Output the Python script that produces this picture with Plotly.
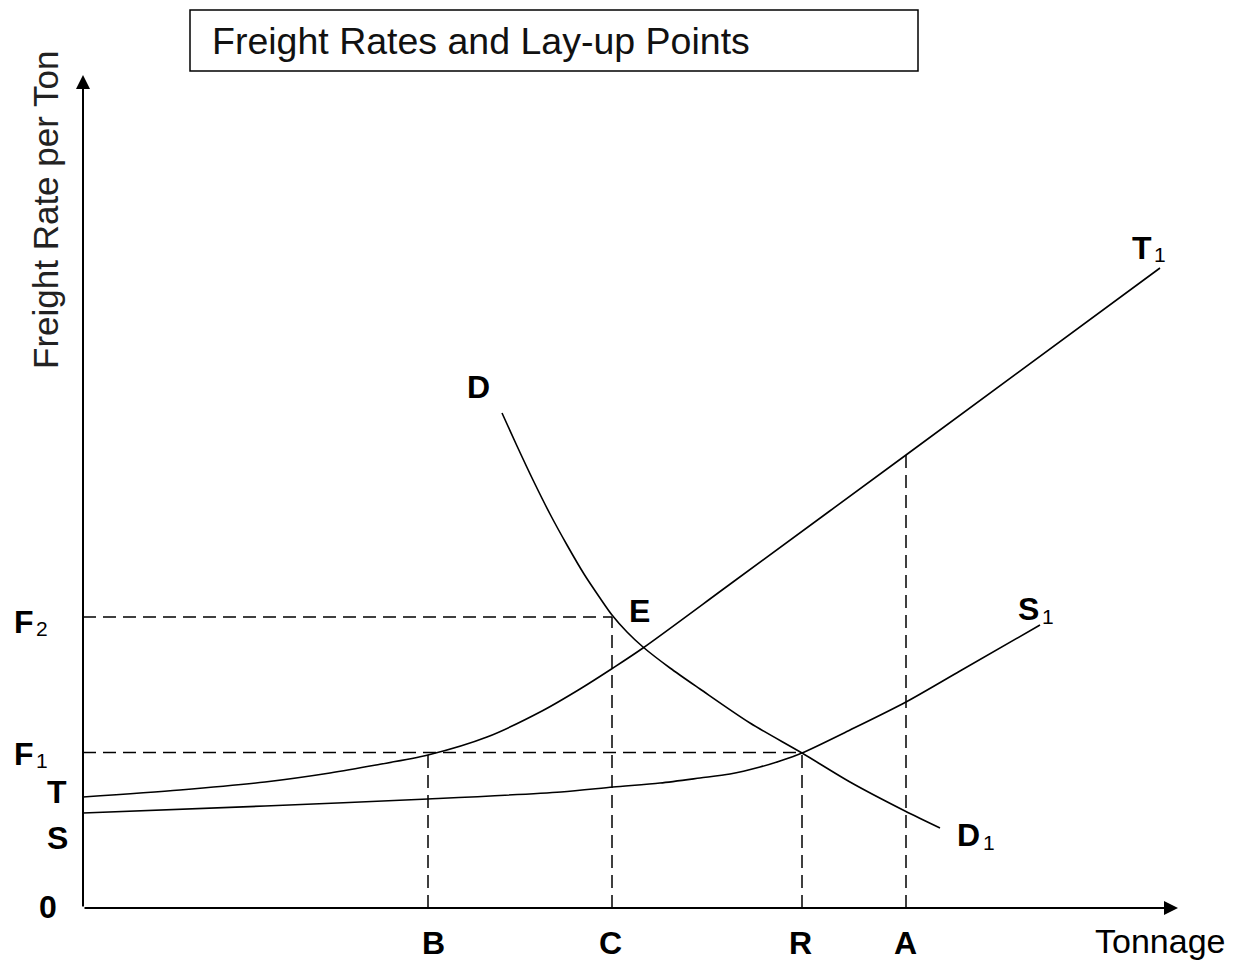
import plotly.graph_objects as go

# ---- data (x: tonnage units, y: freight-rate units) ----
B, C, R, A = 34.5, 52.9, 71.9, 82.3
F1, F2 = 15.55, 29.1
X_MAX, Y_MAX = 109.5, 83.3

t_x = [0, 9.7, 18.2, 24.7, 29.3, 34.5, 40.4, 45.9, 49.7, 53.0, 56.0, 65.0, 82.3, 107.7]
t_y = [11.1, 11.8, 12.6, 13.5, 14.3, 15.3, 17.1, 19.7, 21.9, 24.0, 26.0, 32.6, 45.3, 64.0]

s_x = [0, 18.2, 34.5, 47.8, 53.0, 57.7, 61.7, 64.7, 67.7, 69.7, 71.9, 76.7, 82.3, 87.7, 95.7]
s_y = [9.5, 10.2, 10.9, 11.6, 12.1, 12.5, 13.0, 13.4, 14.1, 14.7, 15.5, 17.8, 20.6, 23.7, 28.3]

d_x = [41.9, 43.4, 45.0, 46.7, 48.4, 50.1, 51.7, 52.9, 54.4, 56.0, 58.7, 61.7, 66.7, 71.9, 76.7, 82.2, 85.7]
d_y = [49.5, 46.2, 42.8, 39.4, 36.3, 33.4, 31.0, 29.3, 27.6, 26.1, 24.0, 21.9, 18.5, 15.5, 12.6, 9.7, 8.0]

T_AT_A = 45.3
T_AT_B = 15.3

LINE_W = 1.6
DASH = "13px,7px"

fig = go.Figure()

def curve(x, y):
    fig.add_trace(go.Scatter(x=x, y=y, mode="lines", hoverinfo="skip",
                             line=dict(color="black", width=LINE_W, shape="spline", smoothing=0.8),
                             showlegend=False, cliponaxis=False))

def dashed(x, y):
    fig.add_trace(go.Scatter(x=x, y=y, mode="lines", hoverinfo="skip",
                             line=dict(color="black", width=1.5, dash=DASH),
                             showlegend=False, cliponaxis=False))

# dashed guide lines
dashed([0, C], [F2, F2])
dashed([C, C], [0, F2])
dashed([0, R], [F1, F1])
dashed([B, B], [0, T_AT_B])
dashed([R, R], [0, F1])
dashed([A, A], [0, T_AT_A])

# curves
curve(t_x, t_y)
curve(s_x, s_y)
curve(d_x, d_y)

FONT = "Liberation Sans, Arial, sans-serif"
annotations = []

# axes with arrows
annotations.append(dict(x=X_MAX, y=0, ax=0, ay=0, xref="x", yref="y", axref="x", ayref="y",
                        showarrow=True, arrowhead=2, arrowsize=1.4, arrowwidth=2, arrowcolor="black", text=""))
annotations.append(dict(x=0, y=Y_MAX, ax=0, ay=0, xref="x", yref="y", axref="x", ayref="y",
                        showarrow=True, arrowhead=2, arrowsize=1.4, arrowwidth=2, arrowcolor="black", text=""))

def label(text, x, y, size=32, xanchor="center", yanchor="middle", angle=0, color="black",
          xshift=0, yshift=0):
    # positioned in paper space (so labels outside the axis ranges stay visible)
    annotations.append(dict(x=x / X_MAX, y=y / Y_MAX, xref="paper", yref="paper", text=text,
                            showarrow=False, xanchor=xanchor, yanchor=yanchor, textangle=angle,
                            xshift=xshift, yshift=yshift,
                            font=dict(family=FONT, size=size, color=color)))

HALF_W = {"F": 9.8, "T": 9.8, "S": 10.7, "D": 11.6}

def label_sub(main, sub, x, y):
    label(f"<b>{main}</b>", x, y)
    label(sub, x, y, size=21, xanchor="left", xshift=HALF_W[main], yshift=-7)

# left labels
label_sub("F", "2", -5.9, 28.65)
label_sub("F", "1", -5.9, 15.45)
label("<b>T</b>", -2.6, 11.6)
label("<b>S</b>", -2.6, 7.0)
label("<b>0</b>", -3.5, 0.1)

# bottom labels
for name, xv in [("B", B + 0.5), ("C", C - 0.2), ("R", R - 0.2), ("A", A - 0.1)]:
    label(f"<b>{name}</b>", xv, -3.5)
label("Tonnage", 107.7, -3.3, size=34)

# curve labels
label("<b>D</b>", 39.5, 52.1)
label("<b>E</b>", 55.6, 29.7)
label_sub("T", "1", 105.9, 66.0)
label_sub("S", "1", 94.6, 29.9)
label_sub("D", "1", 88.6, 7.3)

# y axis title
label("Freight Rate per Ton", -3.8, 69.8, size=35, angle=-90, color="#222222")

# chart title in a box
label("Freight Rates and Lay-up Points", 12.7, 86.7, size=37.5, xanchor="left", color="#111111")

shapes = [dict(type="rect", xref="paper", yref="paper",
               x0=10.7 / X_MAX, x1=83.5 / X_MAX, y0=83.7 / Y_MAX, y1=89.8 / Y_MAX,
               line=dict(color="black", width=1.5), fillcolor="rgba(0,0,0,0)")]

fig.update_layout(
    width=1240, height=960,
    margin=dict(l=75, r=70, t=67, b=60),
    paper_bgcolor="white", plot_bgcolor="white",
    xaxis=dict(range=[0, X_MAX], visible=False, fixedrange=True),
    yaxis=dict(range=[0, Y_MAX], visible=False, fixedrange=True),
    annotations=annotations, shapes=shapes,
    showlegend=False,
)

fig.write_html("out.html")
